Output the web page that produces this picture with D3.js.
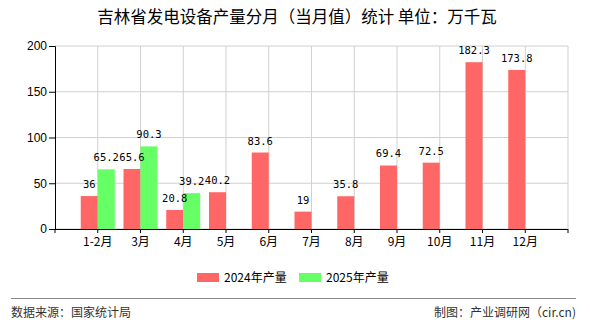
<!DOCTYPE html>
<html><head><meta charset="utf-8">
<script src="https://cdn.jsdelivr.net/npm/d3@7/dist/d3.min.js"></script>
<style>body{margin:0;background:#fff;}svg{display:block;}</style>
</head><body>
<svg id="c" width="590" height="330"></svg>
<script>
const categories = ["1-2月","3月","4月","5月","6月","7月","8月","9月","10月","11月","12月"];
const values2024 = [36,65.6,20.8,40.2,83.6,19,35.8,69.4,72.5,182.3,173.8];
const values2025 = [65.2,90.3,39.2,null,null,null,null,null,null,null,null];
const yTicks = [0,50,100,150,200];
const seriesNames = ["2024年产量","2025年产量"];
const colors = ["#ff6666","#66ff66"];

const svg = d3.select("#c");
const L = 55, R = 568, T = 46, B = 229;
const step = (R - L) / 12;
const x = d3.scaleBand().domain(categories).range([L + step/2, R - step/2]).paddingInner(0).paddingOuter(0);
const y = d3.scaleLinear().domain([0,200]).range([B, T]);
const barW = 17;
const font = "'Liberation Sans','DejaVu Sans',sans-serif";
const cjk = "'Noto Sans CJK SC','Liberation Sans',sans-serif";

// title
svg.append("text").attr("x", 297).attr("y", 23).attr("text-anchor","middle")
  .attr("font-family", cjk).attr("font-size", 16.5).attr("fill","#000")
  .text("吉林省发电设备产量分月（当月值）统计 单位：万千瓦");

// grid
const g = svg.append("g");
yTicks.forEach(t => {
  g.append("line").attr("x1", L).attr("x2", R).attr("y1", y(t)).attr("y2", y(t))
    .attr("stroke", "#d0d0d0").attr("stroke-width", 1);
});
const boundaries = d3.range(13).map(i => L + i*step);
boundaries.slice(1).forEach(bx => {
  g.append("line").attr("x1", bx).attr("x2", bx).attr("y1", T).attr("y2", B)
    .attr("stroke", "#d0d0d0").attr("stroke-width", 1);
});

// bars
const center = c => x(c) + x.bandwidth()/2;
[values2024, values2025].forEach((vals, si) => {
  svg.append("g").selectAll("rect").data(categories.map((c,i)=>({c, v: vals[i]})).filter(d=>d.v!=null))
    .join("rect")
    .attr("x", d => si === 0 ? center(d.c) - barW : center(d.c))
    .attr("y", d => y(d.v)).attr("width", barW).attr("height", d => B - y(d.v))
    .attr("fill", colors[si]);
});
[values2024, values2025].forEach((vals, si) => {
  svg.append("g").selectAll("text").data(categories.map((c,i)=>({c, v: vals[i]})).filter(d=>d.v!=null))
    .join("text")
    .attr("x", d => si === 0 ? center(d.c) - barW/2 : center(d.c) + barW/2)
    .attr("y", d => y(d.v) - 8)
    .attr("text-anchor","middle").attr("font-family","'DejaVu Sans Mono',monospace").attr("font-size", 10.5)
    .attr("fill","#000").text(d => d.v);
});

// axes
const yAxis = d3.axisLeft(y).tickValues(yTicks).tickSize(6).tickPadding(2);
const ya = svg.append("g").attr("transform", `translate(${L},0)`).call(yAxis);
ya.select(".domain").attr("stroke","#000");
ya.selectAll(".tick line").attr("stroke","#000");
ya.selectAll("text").attr("font-family", font).attr("font-size", 12).attr("fill","#000");

const xa = svg.append("g");
xa.append("line").attr("x1", L).attr("x2", R).attr("y1", B+0.5).attr("y2", B+0.5).attr("stroke","#000");
boundaries.forEach(bx => {
  xa.append("line").attr("x1", bx).attr("x2", bx).attr("y1", B).attr("y2", B+4).attr("stroke","#000");
});
xa.selectAll("text.xl").data(categories).join("text").attr("class","xl")
  .attr("x", d => center(d)).attr("y", B + 17).attr("text-anchor","middle")
  .attr("font-family", cjk).attr("font-size", 12).attr("fill","#000").text(d => d);

// legend
const lg = [{x:197, tx:224}, {x:299, tx:326}];
lg.forEach((p,i) => {
  svg.append("rect").attr("x", p.x).attr("y", 273).attr("width", 22).attr("height", 9).attr("fill", colors[i]);
  svg.append("text").attr("x", p.tx).attr("y", 282).attr("font-family", cjk).attr("font-size", 12)
    .attr("fill","#000").text(seriesNames[i]);
});

// footer
svg.append("line").attr("x1", 11).attr("x2", 576).attr("y1", 298.5).attr("y2", 298.5).attr("stroke","#888").attr("stroke-width",1);
svg.append("text").attr("x", 11).attr("y", 317).attr("font-family", cjk).attr("font-size", 12).attr("fill","#333").text("数据来源：国家统计局");
svg.append("text").attr("x", 576).attr("y", 317).attr("text-anchor","end").attr("font-family", cjk).attr("font-size", 12).attr("fill","#333").text("制图：产业调研网（cir.cn)");
</script>
</body></html>
